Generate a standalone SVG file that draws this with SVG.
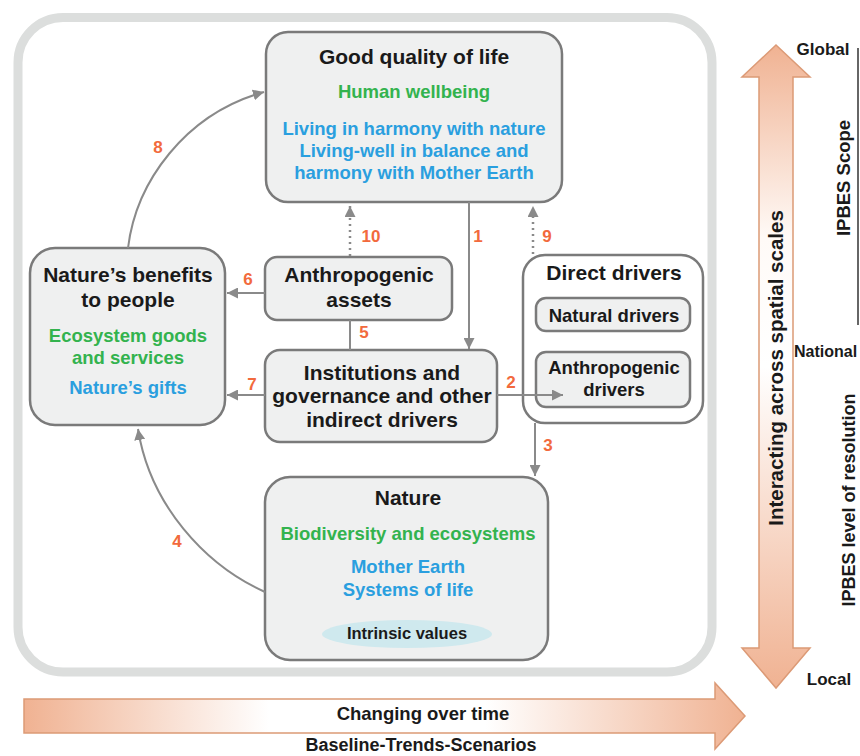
<svg xmlns="http://www.w3.org/2000/svg" width="860" height="756" viewBox="0 0 860 756">
<defs>
<style>
text{font-family:"Liberation Sans",Arial,sans-serif;font-weight:bold;text-anchor:middle}
.t{font-size:21px;fill:#1a1a1a}
.s{font-size:18.5px}
.g{fill:#33b34e}
.b{fill:#2a9fdf}
.n{font-size:17px;fill:#f26a3d}
.side{font-size:17px;fill:#1a1a1a}
.box{fill:#eff0f0;stroke:#7a7a7a;stroke-width:2.5}
.con{fill:none;stroke:#8a8a8a;stroke-width:2}
.dot{fill:none;stroke:#8a8a8a;stroke-width:2.5;stroke-dasharray:2 4}
</style>
<marker id="ah" viewBox="0 0 10 10" refX="10" refY="5" markerWidth="11" markerHeight="11" markerUnits="userSpaceOnUse" orient="auto"><path d="M0,0 L10,5 L0,10 z" fill="#8a8a8a"/></marker>
<linearGradient id="vg" x1="0" y1="45" x2="0" y2="688" gradientUnits="userSpaceOnUse">
<stop offset="0" stop-color="#f0b292"/><stop offset="0.3" stop-color="#fffaf7"/><stop offset="0.5" stop-color="#ffffff"/><stop offset="1" stop-color="#f0b292"/>
</linearGradient>
<linearGradient id="hg" x1="24" y1="0" x2="745" y2="0" gradientUnits="userSpaceOnUse">
<stop offset="0" stop-color="#f0b292"/><stop offset="0.34" stop-color="#ffffff"/><stop offset="0.64" stop-color="#ffffff"/><stop offset="1" stop-color="#f0b292"/>
</linearGradient>
</defs>
<rect width="860" height="756" fill="#ffffff"/>
<rect x="18" y="17.5" width="694" height="654.5" rx="45" fill="none" stroke="#dcdedd" stroke-width="9"/>

<g id="good-quality">
<rect class="box" x="266" y="32" width="296" height="170" rx="22"/>
<text class="t" x="414" y="64">Good quality of life</text>
<text class="s g" x="414" y="98">Human wellbeing</text>
<text class="s b" x="414" y="135">Living in harmony with nature</text>
<text class="s b" x="414" y="157">Living-well in balance and</text>
<text class="s b" x="414" y="179">harmony with Mother Earth</text>
</g>

<g id="benefits">
<rect class="box" x="30" y="248" width="195" height="177" rx="25"/>
<text class="t" x="128" y="282">Nature’s benefits</text>
<text class="t" x="128" y="307">to people</text>
<text class="s g" x="128" y="342">Ecosystem goods</text>
<text class="s g" x="128" y="364">and services</text>
<text class="s b" x="128" y="394">Nature’s gifts</text>
</g>

<g id="assets">
<rect class="box" x="265" y="257" width="187" height="63" rx="12"/>
<text class="t" x="359" y="282">Anthropogenic</text>
<text class="t" x="359" y="307">assets</text>
</g>

<g id="institutions">
<rect class="box" x="265" y="350" width="232" height="92" rx="15"/>
<text class="t" x="382" y="380">Institutions and</text>
<text class="t" x="382" y="403">governance and other</text>
<text class="t" x="382" y="427">indirect drivers</text>
</g>

<g id="direct-drivers">
<rect x="523" y="255" width="180" height="168" rx="22" fill="#ffffff" stroke="#7a7a7a" stroke-width="2.5"/>
<text class="t" x="614" y="280">Direct drivers</text>
<g id="natural-drivers">
<rect class="box" x="536" y="298" width="154" height="33" rx="10"/>
<text class="s" x="614" y="322" fill="#1a1a1a">Natural drivers</text>
</g>
<g id="anthropogenic-drivers">
<rect class="box" x="536" y="352" width="154" height="55" rx="10"/>
<text class="s" x="614" y="374" fill="#1a1a1a">Anthropogenic</text>
<text class="s" x="614" y="396" fill="#1a1a1a">drivers</text>
</g>
</g>

<g id="nature">
<rect class="box" x="265" y="477" width="283" height="183" rx="25"/>
<text class="t" x="408" y="505">Nature</text>
<text class="s g" x="408" y="540">Biodiversity and ecosystems</text>
<text class="s b" x="408" y="573">Mother Earth</text>
<text class="s b" x="408" y="596">Systems of life</text>
<ellipse cx="407" cy="634" rx="85" ry="14" fill="#cfe9ee"/>
<text x="407" y="639" style="font-size:16.5px" fill="#1a1a1a">Intrinsic values</text>
</g>

<g id="connectors">
<line class="con" x1="469" y1="202" x2="469" y2="349" marker-end="url(#ah)"/>
<line class="con" x1="497" y1="395" x2="563" y2="395" marker-end="url(#ah)"/>
<line class="con" x1="535" y1="423" x2="535" y2="476" marker-end="url(#ah)"/>
<path class="con" d="M265,592 C205,565 150,505 138,429" marker-end="url(#ah)"/>
<line class="con" x1="350" y1="320" x2="350" y2="350"/>
<line class="con" x1="265" y1="293" x2="227" y2="293" marker-end="url(#ah)"/>
<line class="con" x1="265" y1="395" x2="227" y2="395" marker-end="url(#ah)"/>
<path class="con" d="M128,248 C136,182 185,114 264,92" marker-end="url(#ah)"/>
<line class="dot" x1="533" y1="254" x2="533" y2="206" marker-end="url(#ah)"/>
<line class="dot" x1="350" y1="256" x2="350" y2="206" marker-end="url(#ah)"/>
<text class="n" x="478" y="242">1</text>
<text class="n" x="511" y="388">2</text>
<text class="n" x="548" y="451">3</text>
<text class="n" x="177" y="547">4</text>
<text class="n" x="364" y="338">5</text>
<text class="n" x="248" y="285">6</text>
<text class="n" x="252" y="390">7</text>
<text class="n" x="158" y="153">8</text>
<text class="n" x="547" y="242">9</text>
<text class="n" x="371" y="242">10</text>
</g>

<g id="spatial-scales">
<path d="M776,45 L810,77 L793,77 L793,648 L810,648 L776,688 L742,648 L759,648 L759,77 L742,77 Z" fill="url(#vg)" stroke="#dc9a76" stroke-width="1.5" stroke-linejoin="miter"/>
<text transform="translate(783,368) rotate(-90)" style="font-size:20.5px" fill="#1a1a1a">Interacting across spatial scales</text>
</g>

<g id="ipbes-scale">
<text class="side" x="823" y="55">Global</text>
<text class="side" x="794" y="357" style="text-anchor:start;font-size:16px">National</text>
<text class="side" x="829" y="685">Local</text>
<line x1="858" y1="48" x2="858" y2="325" stroke="#333333" stroke-width="1.5"/>
<text transform="translate(850,178) rotate(-90)" style="font-size:18.5px" fill="#1a1a1a">IPBES Scope</text>
<text transform="translate(855,500) rotate(-90)" style="font-size:18px" fill="#1a1a1a">IPBES level of resolution</text>
</g>

<g id="time">
<path d="M24,699 L715,699 L715,683 L745,716 L715,749 L715,733 L24,733 Z" fill="url(#hg)" stroke="#dc9a76" stroke-width="1.5"/>
<text x="423" y="720" style="font-size:18.5px" fill="#1a1a1a">Changing over time</text>
<text x="421" y="751" style="font-size:18px" fill="#1a1a1a">Baseline-Trends-Scenarios</text>
</g>
</svg>
